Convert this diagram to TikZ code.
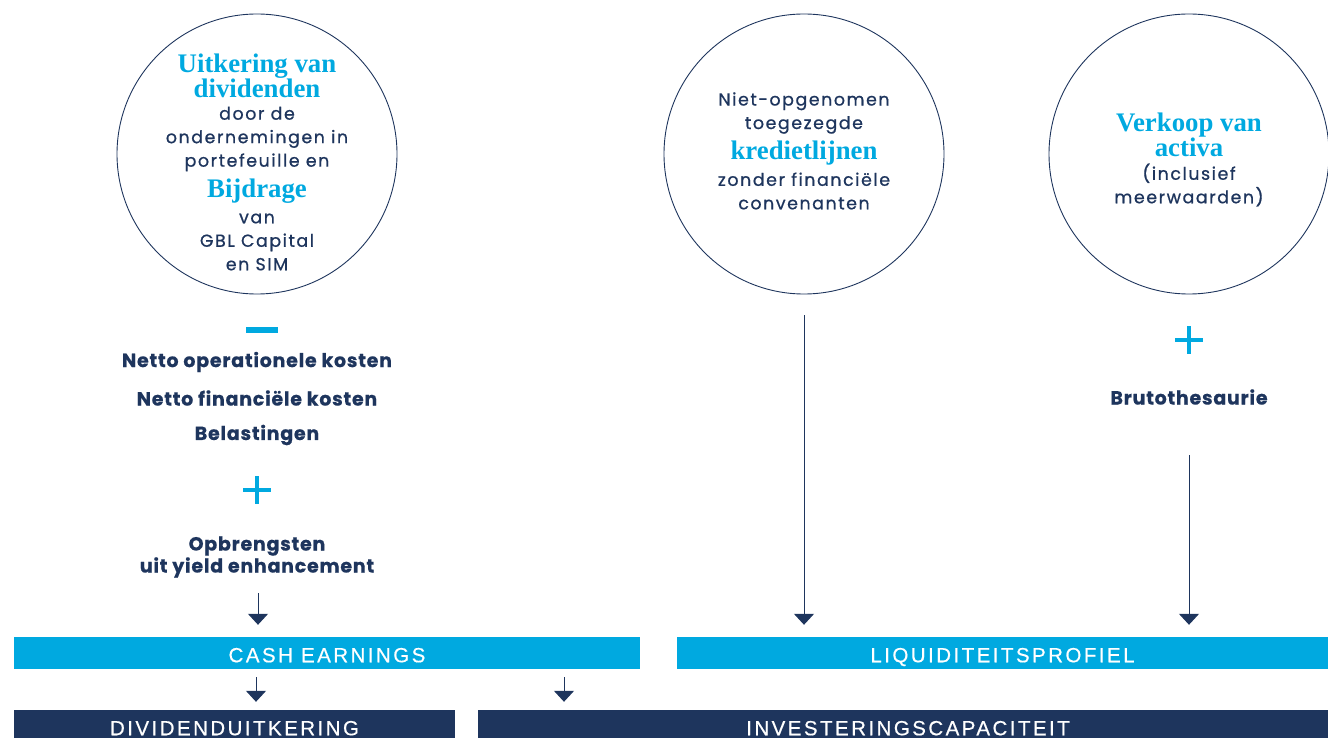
\documentclass[tikz,border=0pt]{standalone}
\usepackage{fontspec}
\usetikzlibrary{arrows.meta,positioning}
\newfontfamily\bodyfont[LetterSpace=9,FakeBold=0.8]{Poppins}
\newfontfamily\costfont[LetterSpace=4,FakeBold=0.6]{Poppins Bold}
\newfontfamily\headfont{Liberation Serif}
\newfontfamily\barfont[LetterSpace=12,FakeBold=0.5]{Liberation Sans}
\definecolor{GblBlue}{RGB}{0,169,224}
\definecolor{GblNavy}{RGB}{30,53,93}

\tikzset{
  ring/.style={circle,draw=GblNavy,line width=0.9pt,minimum size=280pt,inner sep=0pt},
  headtxt/.style={text=GblBlue,font=\headfont\bfseries\fontsize{26.8}{25}\selectfont,align=center,inner sep=0pt},
  bodytxt/.style={text=GblNavy,font=\bodyfont\fontsize{17.4}{23.5}\selectfont,align=center,inner sep=0pt},
  costtxt/.style={text=GblNavy,font=\costfont\fontsize{19}{22}\selectfont,align=center,inner sep=0pt},
  barlight/.style={fill=GblBlue,text=white,font=\barfont\fontsize{20.5}{20.5}\selectfont,minimum height=32pt,
    inner sep=0pt,text height=18.5pt,text depth=0pt},
  bardark/.style={barlight,fill=GblNavy},
  flow/.style={-{Triangle[width=20pt,length=11pt]},draw=GblNavy,line width=1pt},
  opline/.style={draw=GblBlue,line width=4pt}
}

\begin{document}
\begin{tikzpicture}[x=1pt,y=-1pt]
  \useasboundingbox (0,0) rectangle (1328,738);

  % circles
  \node[ring] (payout) at (257,154) {};
  \node[ring] (credit) at (804,154) {};
  \node[ring] (sale) at (1189,154) {};

  % texts in the left circle
  \node[headtxt] (payoutHead) at (257,75.5) {Uitkering van\\dividenden};
  \node[bodytxt] (payoutBody) at (257,139) {door de\\ondernemingen in\\portefeuille en};
  \node[headtxt] (contribHead) at (257,191) {Bijdrage};
  \node[bodytxt] (contribBody) at (257,242) {van\\GBL Capital\\en SIM};

  % texts in the middle circle
  \node[bodytxt] (creditTop) at (804,113) {Niet-opgenomen\\toegezegde};
  \node[headtxt] (creditHead) at (804,153) {kredietlijnen};
  \node[bodytxt] (creditBody) at (804,191) {zonder financiële\\convenanten};

  % texts in the right circle
  \node[headtxt] (saleHead) at (1189,135) {Verkoop van\\activa};
  \node[bodytxt] (saleBody) at (1189,185) {(inclusief\\meerwaarden)};

  % left column
  \fill[GblBlue] (246,327) rectangle (278,333);
  \node[costtxt] (opcost) at (257,362) {Netto operationele kosten};
  \node[costtxt] (fincost) at (257,398) {Netto financiële kosten};
  \node[costtxt] (tax) at (257,435) {Belastingen};
  \draw[opline] (243,490) -- (271,490) (257,476) -- (257,504);
  \node[costtxt] (yield) at (257,557) {Opbrengsten\\uit yield enhancement};

  % right column
  \draw[opline] (1175,340) -- (1203,340) (1189,326) -- (1189,354);
  \node[costtxt] (cashgross) at (1189,397) {Brutothesaurie};

  % bars
  \node[barlight,minimum width=626pt] (cash) at (327,653) {CASH EARNINGS};
  \node[barlight,minimum width=651pt] (liq) at (1002.5,653) {LIQUIDITEITSPROFIEL};
  \node[bardark,minimum width=441pt] (div) at (234.5,726) {DIVIDENDUITKERING};
  \node[bardark,minimum width=860pt] (invest) at (908,726) {INVESTERINGSCAPACITEIT};

  % arrows
  \coordinate (yieldTail) at (258,593);
  \coordinate (brutoTail) at (1189,455);
  \coordinate (divTail) at (256,669);
  \coordinate (investTail) at (564,669);
  \draw[flow,shorten >=12pt] (yieldTail) -- (yieldTail |- cash.north);
  \draw[flow,shorten <=21pt,shorten >=12pt] (credit.south) -- (credit.south |- liq.north);
  \draw[flow,shorten >=12pt] (brutoTail) -- (brutoTail |- liq.north);
  \draw[flow,shorten <=8pt,shorten >=8pt] (divTail) -- (divTail |- div.north);
  \draw[flow,shorten <=8pt,shorten >=8pt] (investTail) -- (investTail |- invest.north);
\end{tikzpicture}
\end{document}
